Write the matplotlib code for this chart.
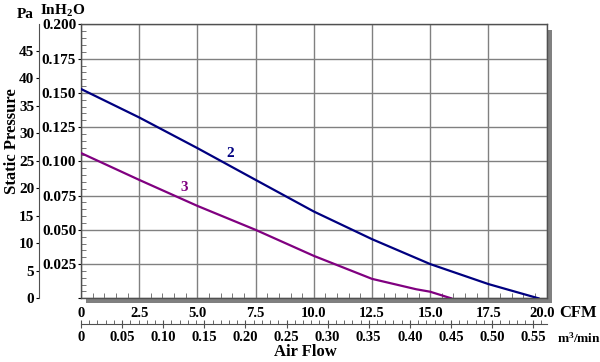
import matplotlib
matplotlib.use("Agg")
import matplotlib.pyplot as plt
from matplotlib.patches import Rectangle
from matplotlib.transforms import ScaledTranslation
import numpy as np

plt.rcParams['font.family'] = ['Liberation Serif', 'DejaVu Serif']
plt.rcParams['font.weight'] = 'bold'
plt.rcParams['mathtext.fontset'] = 'custom'
plt.rcParams['mathtext.rm'] = 'Liberation Serif:bold'
plt.rcParams['mathtext.bf'] = 'Liberation Serif:bold'
plt.rcParams['mathtext.it'] = 'Liberation Serif:bold'

# Data (CFM, inH2O)
curve2_cfm = [0, 2.5, 5.0, 7.5, 10.0, 12.5, 15.0, 17.5, 19.65]
curve2_inh2o = [0.1529, 0.1321, 0.1097, 0.0865, 0.0634, 0.0432, 0.0250, 0.0104, 0.0]
curve3_cfm = [0, 2.5, 5.0, 7.5, 10.0, 12.5, 14.4, 15.0, 15.9]
curve3_inh2o = [0.1061, 0.0865, 0.0675, 0.0500, 0.0310, 0.0142, 0.0066, 0.0048, 0.0]
curve_labels = ["2", "3"]
curve_colors = ["#000080", "#800080"]

cfm_ticks = [0, 2.5, 5.0, 7.5, 10.0, 12.5, 15.0, 17.5, 20.0]
cfm_labels = ["0", "2.5", "5.0", "7.5", "10.0", "12.5", "15.0", "17.5", "20.0"]
inh2o_ticks = [0, 0.025, 0.05, 0.075, 0.1, 0.125, 0.15, 0.175, 0.2]
inh2o_labels = ["", "0.025", "0.050", "0.075", "0.100", "0.125", "0.150", "0.175", "0.200"]
pa_ticks = [0, 5, 10, 15, 20, 25, 30, 35, 40, 45]
m3_ticks = [0, 0.05, 0.10, 0.15, 0.20, 0.25, 0.30, 0.35, 0.40, 0.45, 0.50, 0.55]
m3_labels = ["0", "0.05", "0.10", "0.15", "0.20", "0.25", "0.30", "0.35", "0.40", "0.45", "0.50", "0.55"]

CFM_TO_M3 = 0.0283168
INH2O_TO_PA = 249.0

W, H = 600, 362
fig = plt.figure(figsize=(6, 3.62), dpi=100)

L, R, T, B = 81, 546.6, 24.5, 298.3
ax = fig.add_axes([L / W, (H - B) / H, (R - L) / W, (B - T) / H])
ax.set_facecolor('white')
ax.set_zorder(2)

# drop shadow
shadow = Rectangle(((L + 5) / W, (H - B - 5) / H), (R - L) / W, (B - T) / H,
                   transform=fig.transFigure, facecolor='#808080', edgecolor='none', zorder=0)
fig.patches.append(shadow)

ax.set_xlim(0, 20)
ax.set_ylim(0, 0.2)
ax.set_xticks(cfm_ticks)
ax.set_xticklabels(cfm_labels)
ax.set_yticks(inh2o_ticks)
ax.set_yticklabels(inh2o_labels)
ax.set_xticks(np.arange(0, 20.01, 0.5), minor=True)
ax.set_yticks(np.arange(0, 0.2001, 0.005), minor=True)
ax.grid(True, which='major', color='#808080', linewidth=1)
ax.tick_params(axis='x', which='major', length=0, pad=6, labelsize=10.5)
ax.tick_params(axis='x', which='minor', direction='in', length=3.5, color='#606060')
ax.tick_params(axis='y', which='major', direction='out', length=2.5, pad=1, labelsize=11)
ax.tick_params(axis='y', which='minor', direction='in', length=3.5, color='#606060')
ax.tick_params(top=False, right=False, which='both')
for s in ax.spines.values():
    s.set_color('#505050')
    s.set_linewidth(1)
last = ax.get_xticklabels()[-1]
last.set_transform(last.get_transform() + ScaledTranslation(-4 / 100, 0, fig.dpi_scale_trans))

ax.plot(curve2_cfm, curve2_inh2o, color=curve_colors[0], linewidth=1.6, zorder=3)
ax.plot(curve3_cfm, curve3_inh2o, color=curve_colors[1], linewidth=1.6, zorder=3)
ax.text(6.4, 0.1055, curve_labels[0], color=curve_colors[0], fontsize=11, ha='center', va='center', fontweight='bold')
ax.text(4.45, 0.081, curve_labels[1], color=curve_colors[1], fontsize=11, ha='center', va='center', fontweight='bold')

# Pa axis
ax_pa = fig.add_axes([39 / W, (H - B) / H, 0.0001, (B - T) / H])
ax_pa.set_ylim(0, 0.2 * INH2O_TO_PA)
ax_pa.set_yticks(pa_ticks)
ax_pa.set_yticklabels([str(t) for t in pa_ticks])
ax_pa.set_xticks([])
for k in ['top', 'right', 'bottom']:
    ax_pa.spines[k].set_visible(False)
ax_pa.spines['left'].set_color('#505050')
ax_pa.tick_params(axis='y', direction='out', length=2.5, pad=1, labelsize=11)
ax_pa.patch.set_visible(False)

# m3/min axis
ax_m3 = fig.add_axes([L / W, (H - 324) / H, (R - L) / W, 0.0001])
ax_m3.set_xlim(0, 20 * CFM_TO_M3)
ax_m3.set_xticks(m3_ticks)
ax_m3.set_xticklabels(m3_labels)
ax_m3.set_xticks(np.arange(0, 0.5664, 0.01), minor=True)
ax_m3.set_yticks([])
for k in ['top', 'right', 'left']:
    ax_m3.spines[k].set_visible(False)
ax_m3.spines['bottom'].set_color('#505050')
ax_m3.tick_params(axis='x', which='major', direction='inout', length=6, pad=2, labelsize=10.5, color='#505050')
ax_m3.tick_params(axis='x', which='minor', direction='in', length=3, color='#505050')
ax_m3.patch.set_visible(False)

fig.text(559 / W, 1 - 313 / H, "CFM", fontsize=12, ha='left', va='center', fontweight='bold')
fig.text(557 / W, 1 - 338 / H, "m$^3$/min", fontsize=9.5, ha='left', va='center', fontweight='bold')
fig.text(305 / W, 1 - 352 / H, "Air Flow", fontsize=12, ha='center', va='center', fontweight='bold')
fig.text(12 / W, 1 - 141.5 / H, "Static Pressure", fontsize=12, ha='center', va='center', rotation=90, fontweight='bold')
fig.text(25 / W, 1 - 14 / H, "Pa", fontsize=11, ha='center', va='center', fontweight='bold')
fig.text(40 / W, 1 - 11 / H, "InH$_2$O", fontsize=11, ha='left', va='center', fontweight='bold')

fig.savefig("out.png", dpi=100)
